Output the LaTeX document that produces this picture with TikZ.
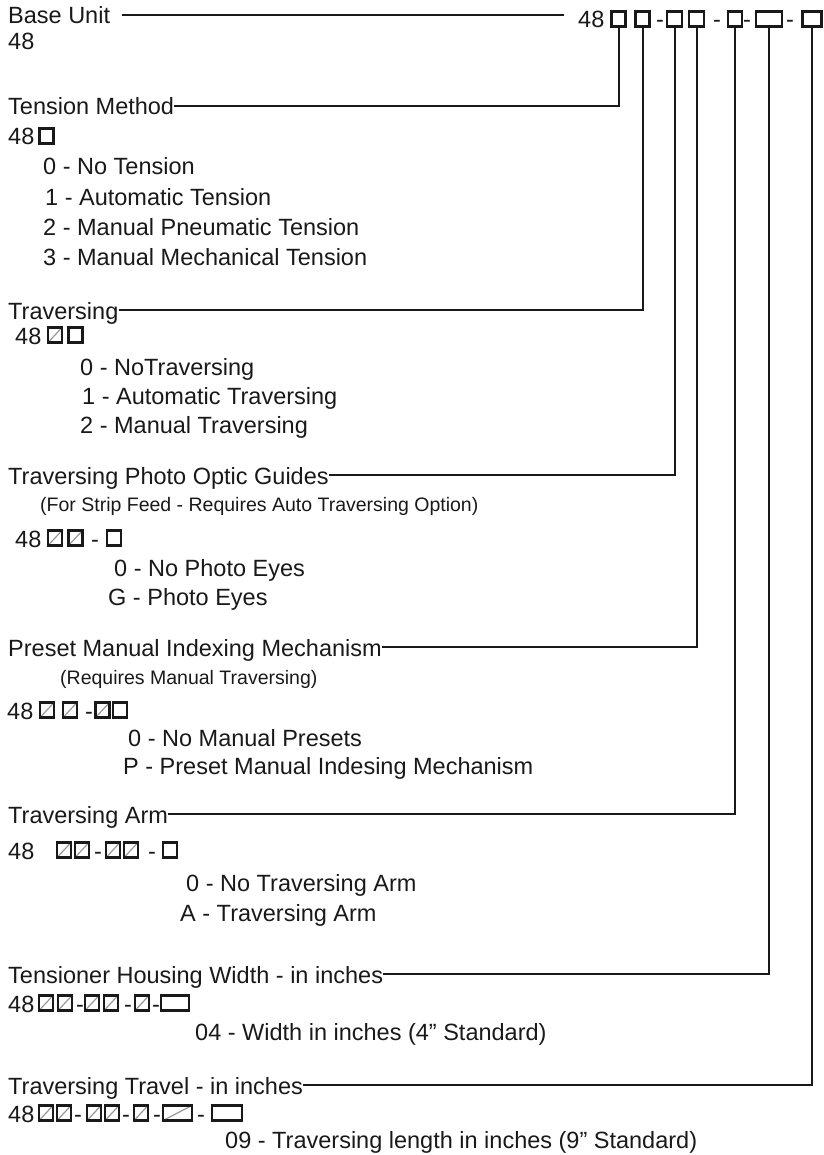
\documentclass[tikz,border=0pt]{standalone}
\usepackage{fontspec}
\setmainfont{Liberation Sans}
\usetikzlibrary{positioning}

\tikzstyle{txt} = [anchor=base west, inner sep=0pt, text=black!90, font=\fontsize{23.5}{28}\selectfont]
\tikzstyle{title} = [txt, text height=18pt, text depth=0pt]
\tikzstyle{note} = [txt, font=\fontsize{19.5}{23}\selectfont]
\tikzstyle{cell} = [draw=black!90, line width=2.3pt, minimum width=14pt, minimum height=15pt, inner sep=0pt]
\tikzstyle{done} = [cell, path picture={\draw[black!40, line width=1.2pt] (path picture bounding box.south west) -- (path picture bounding box.north east);}]
\tikzstyle{lead} = [draw=black!90, line width=2pt]

\begin{document}
\begin{tikzpicture}[x=1pt, y=-1pt]
\useasboundingbox (0,0) rectangle (823,1155);

% header code
\node[title] (base) at (8,24) {Base Unit};
\node[txt] (code) at (578,28) {48};
\node[cell] (h1) at (618.5,19) {};
\node[cell] (h2) at (642.5,19) {};
\node[txt] (hd1) at (656,28) {-};
\node[cell, minimum width=15pt] (h3) at (674.5,19) {};
\node[cell, minimum width=15pt] (h4) at (696.5,19) {};
\node[txt] (hd2) at (713,28) {-};
\node[cell, minimum width=14pt] (h5) at (735,19) {};
\node[txt] (hd3) at (743,28) {-};
\node[cell, minimum width=26pt] (h6) at (769,19) {};
\node[txt] (hd4) at (786,28) {-};
\node[cell, minimum width=19pt] (h7) at (812,19) {};
\node[txt] (unit) at (8,50) {48};
\draw[lead] ([xshift=12pt]base.east) -- ([xshift=-14pt]base.east -| code.west);

% tension method
\node[title] (tm) at (8,115) {Tension Method};
\node[txt] (tmc) at (8,145) {48};
\node[cell] (t1) at (46.5,136) {};
\node[txt] (tm0) at (43,175) {0 - No Tension};
\node[txt] (tm1) at (45,205.5) {1 - Automatic Tension};
\node[txt] (tm2) at (43,236) {2 - Manual Pneumatic Tension};
\node[txt] (tm3) at (43,266) {3 - Manual Mechanical Tension};
\draw[lead] (tm.east) -- (tm.east -| h1.south) -- (h1.south);

% traversing
\node[title] (tr) at (8,319) {Traversing};
\node[txt] (trc) at (15,344) {48};
\node[done] (v1) at (55,335) {};
\node[cell] (v2) at (75.5,335) {};
\node[txt] (tr0) at (80,375) {0 - NoTraversing};
\node[txt] (tr1) at (82,404) {1 - Automatic Traversing};
\node[txt] (tr2) at (80,433) {2 - Manual Traversing};
\draw[lead] (tr.east) -- (tr.east -| h2.south) -- (h2.south);

% photo optic guides
\node[title] (po) at (8,484) {Traversing Photo Optic Guides};
\node[note] (pon) at (40,511) {(For Strip Feed - Requires Auto Traversing Option)};
\node[txt] (poc) at (15,547) {48};
\node[done] (p1) at (55,538) {};
\node[done] (p2) at (75.5,538) {};
\node[txt] (pd1) at (91,547) {-};
\node[cell] (p3) at (114,538) {};
\node[txt] (po0) at (114,576) {0 - No Photo Eyes};
\node[txt] (po1) at (108,605) {G - Photo Eyes};
\draw[lead] (po.east) -- (po.east -| h3.south) -- (h3.south);

% preset indexing
\node[title] (pm) at (8,656) {Preset Manual Indexing Mechanism};
\node[note] (pmn) at (60,684) {(Requires Manual Traversing)};
\node[txt] (pmc) at (7,719) {48};
\node[done] (r1) at (47,710) {};
\node[done] (r2) at (70,710) {};
\node[txt] (rd1) at (85,719) {-};
\node[done] (r3) at (102.5,710) {};
\node[cell] (r4) at (120,710) {};
\node[txt] (pm0) at (128,746) {0 - No Manual Presets};
\node[txt] (pm1) at (123,774) {P - Preset Manual Indesing Mechanism};
\draw[lead] (pm.east) -- (pm.east -| h4.south) -- (h4.south);

% traversing arm
\node[title] (ta) at (8,823) {Traversing Arm};
\node[txt] (tac) at (8,859) {48};
\node[done] (a1) at (64,850) {};
\node[done] (a2) at (82,850) {};
\node[txt] (ad1) at (94,859) {-};
\node[done] (a3) at (113,850) {};
\node[done] (a4) at (131,850) {};
\node[txt] (ad2) at (148,859) {-};
\node[cell] (a5) at (170,850) {};
\node[txt] (ta0) at (186,891) {0 - No Traversing Arm};
\node[txt] (ta1) at (180,921) {A - Traversing Arm};
\draw[lead] (ta.east) -- (ta.east -| h5.south) -- (h5.south);

% housing width
\node[title] (hw) at (8,983) {Tensioner Housing Width - in inches~};
\node[txt] (hwc) at (8,1012) {48};
\node[done] (w1) at (46,1003) {};
\node[done] (w2) at (65,1003) {};
\node[txt] (wd1) at (76,1012) {-};
\node[done] (w3) at (92,1003) {};
\node[done] (w4) at (111,1003) {};
\node[txt] (wd2) at (124,1012) {-};
\node[done] (w5) at (142,1003) {};
\node[txt] (wd3) at (152,1012) {-};
\node[cell, minimum width=28pt] (w6) at (175,1003) {};
\node[txt] (hw0) at (195,1040) {04 - Width in inches (4” Standard)};
\draw[lead] (hw.east) -- (hw.east -| h6.south) -- (h6.south);

% traversing travel
\node[title] (tt) at (8,1094) {Traversing Travel - in inches~};
\node[txt] (ttc) at (8,1122) {48};
\node[done] (s1) at (46,1113) {};
\node[done] (s2) at (64,1113) {};
\node[txt] (sd1) at (74,1122) {-};
\node[done] (s3) at (94,1113) {};
\node[done] (s4) at (112,1113) {};
\node[txt] (sd2) at (122,1122) {-};
\node[done] (s5) at (141,1113) {};
\node[txt] (sd3) at (153,1122) {-};
\node[done, minimum width=29pt] (s6) at (177.5,1113) {};
\node[txt] (sd4) at (197,1122) {-};
\node[cell, minimum width=30pt] (s7) at (227,1113) {};
\node[txt] (tt0) at (225,1148) {09 - Traversing length in inches (9” Standard)};
\draw[lead] (tt.east) -- (tt.east -| h7.south) -- (h7.south);
\end{tikzpicture}
\end{document}
